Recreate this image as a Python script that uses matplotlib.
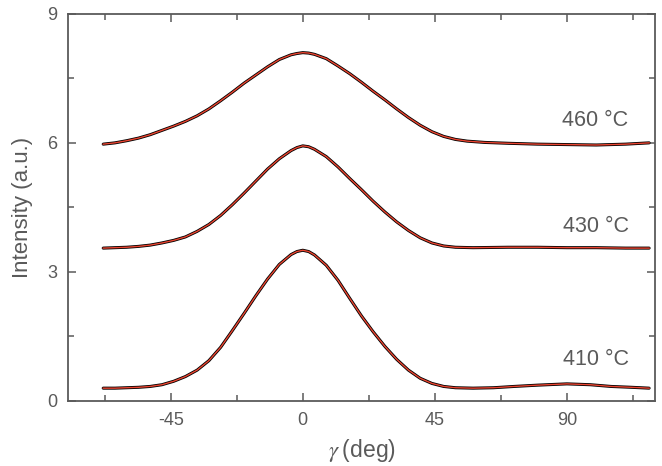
import numpy as np
import matplotlib
matplotlib.use("Agg")
import matplotlib.pyplot as plt
from matplotlib.ticker import MultipleLocator

plt.rcParams['font.family'] = ['Liberation Sans', 'DejaVu Sans']
plt.rcParams['mathtext.fontset'] = 'stix'
plt.rcParams['axes.unicode_minus'] = False

x460 = [-68, -64, -60, -56, -52, -48, -44, -40, -36, -32, -28, -24, -20, -16, -12, -8, -4, -2, 0, 2,
        4, 8, 12, 16, 20, 24, 28, 32, 36, 40, 44, 48, 52, 56, 62, 70, 80, 90, 100, 110, 118]
y460 = [5.97, 6.00, 6.05, 6.11, 6.19, 6.29, 6.39, 6.50, 6.63, 6.79, 6.98, 7.18, 7.39, 7.58, 7.77, 7.94, 8.05, 8.08, 8.10, 8.09,
        8.06, 7.96, 7.79, 7.61, 7.41, 7.20, 7.00, 6.79, 6.59, 6.41, 6.26, 6.15, 6.08, 6.04, 6.01, 5.99, 5.97, 5.96, 5.95, 5.97, 6.00]

x430 = [-68, -64, -60, -56, -52, -48, -44, -40, -36, -32, -28, -24, -20, -16, -12, -8, -4, -2, 0, 2,
        4, 8, 12, 16, 20, 24, 28, 32, 36, 40, 44, 48, 52, 58, 70, 80, 90, 100, 110, 118]
y430 = [3.55, 3.56, 3.57, 3.59, 3.62, 3.67, 3.73, 3.81, 3.94, 4.10, 4.31, 4.56, 4.83, 5.11, 5.39, 5.63, 5.82, 5.89, 5.93, 5.91,
        5.85, 5.68, 5.44, 5.17, 4.91, 4.64, 4.39, 4.16, 3.96, 3.79, 3.67, 3.60, 3.57, 3.56, 3.57, 3.57, 3.56, 3.56, 3.55, 3.55]

x410 = [-68, -64, -60, -56, -52, -48, -44, -40, -36, -32, -28, -24, -20, -16, -12, -8, -4, -2, 0, 2,
        4, 8, 12, 16, 20, 24, 28, 32, 36, 40, 44, 48, 52, 58, 65, 72, 80, 90, 98, 105, 112, 118]
y410 = [0.29, 0.29, 0.30, 0.31, 0.33, 0.37, 0.45, 0.56, 0.71, 0.93, 1.24, 1.63, 2.03, 2.44, 2.83, 3.17, 3.40, 3.47, 3.50, 3.47,
        3.39, 3.15, 2.80, 2.38, 1.97, 1.60, 1.26, 0.96, 0.71, 0.52, 0.40, 0.33, 0.30, 0.29, 0.30, 0.33, 0.36, 0.39, 0.37, 0.33, 0.31, 0.29]

labels = ["460 °C", "430 °C", "410 °C"]
label_y = [6.53, 4.05, 0.95]

grey = '#5a5a5a'

fig = plt.figure(figsize=(6.62, 4.66), dpi=100)
ax = fig.add_axes([0.1027, 0.1403, 0.8867, 0.8297])

for xs, ys in [(x460, y460), (x430, y430), (x410, y410)]:
    ax.plot(xs, ys, '-', color='black', lw=2.2, solid_capstyle='round', solid_joinstyle='round')
    ax.plot(xs, ys, '-', color='#ea4430', lw=1.0, solid_joinstyle='round')

for lab, yy in zip(labels, label_y):
    ax.text(111, yy, lab, ha='right', va='center', fontsize=15.5, color=grey)

ax.set_xlim(-80, 120)
ax.set_ylim(0, 9)
ax.xaxis.set_major_locator(MultipleLocator(45))
ax.xaxis.set_minor_locator(MultipleLocator(22.5))
ax.yaxis.set_major_locator(MultipleLocator(3))
ax.yaxis.set_minor_locator(MultipleLocator(1.5))
ax.tick_params(which='both', direction='in', top=True, right=True, color=grey,
               labelcolor=grey, labelsize=13, width=1.1)
ax.tick_params(which='major', length=6, pad=8)
ax.tick_params(which='minor', length=4)
for s in ax.spines.values():
    s.set_color(grey)
    s.set_linewidth(1.3)

ax.set_xlabel(r'$\gamma\;$(deg)', fontsize=16.5, color=grey, labelpad=6)
ax.set_ylabel('Intensity (a.u.)', fontsize=16, color=grey, labelpad=10)

fig.savefig('out.png', dpi=100)
